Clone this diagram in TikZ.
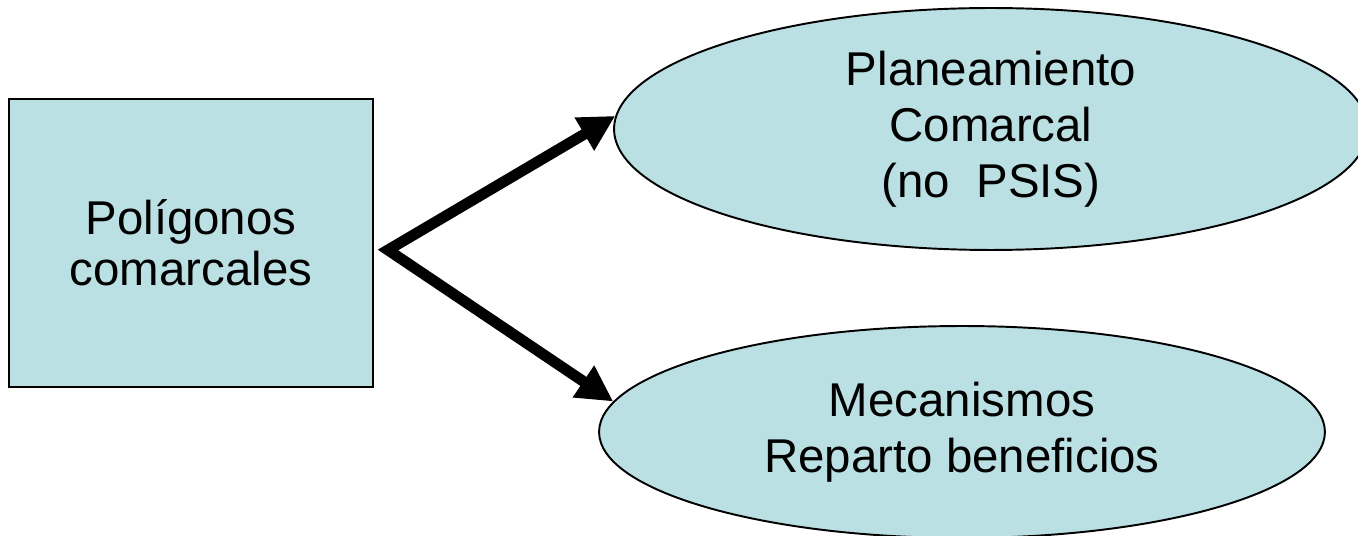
\documentclass[tikz,border=0pt]{standalone}
\usepackage{fontspec}
\setmainfont{Liberation Sans}
\usepackage{tikz}
\usetikzlibrary{shapes.geometric,arrows.meta}
\definecolor{paleblue}{RGB}{187,224,227}
\tikzstyle{bluebox} = [rectangle, minimum width=7.28cm, minimum height=5.76cm, inner sep=0pt, text centered, align=center, draw=black, line width=1.1pt, fill=paleblue, font=\fontsize{27}{29}\selectfont]
\tikzstyle{bubble} = [ellipse, inner sep=0pt, text centered, align=center, draw=black, line width=1.1pt, fill=paleblue]
\tikzstyle{arrow} = [line width=6.2pt, line join=miter, {Triangle[length=0.72cm,width=0.72cm]}-{Triangle[length=0.72cm,width=0.72cm]}]

\begin{document}
\begin{tikzpicture}[x=0.02cm, y=-0.02cm, font=\fontsize{27}{32}\selectfont]
        \useasboundingbox (0,0) rectangle (1358,536);
        \node (poly) [bluebox] at (191,243) {Polígonos\\comarcales};
        \node (plan) [bubble, minimum width=15.08cm, minimum height=4.84cm] at (991,129) {Planeamiento\\Comarcal\\(no~~PSIS)};
        \node (mech) [bubble, minimum width=14.52cm, minimum height=4.24cm] at (962,432) {Mecanismos\\Reparto beneficios};
        \coordinate (fork) at (388,250);

        \draw [arrow] (plan.178) -- (fork) -- (mech.175);
    \end{tikzpicture}
\end{document}
